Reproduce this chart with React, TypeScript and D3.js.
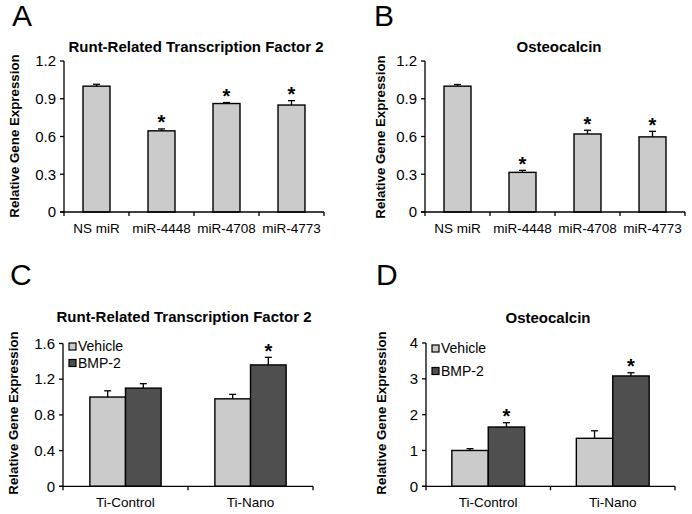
import React from "react";
import * as d3 from "d3";

// ---------- data ----------
const categoriesAB = ["NS miR", "miR-4448", "miR-4708", "miR-4773"];
const runxA = [1.0, 0.645, 0.862, 0.85];
const runxAErr = [0.015, 0.015, 0.008, 0.035];
const runxASig = [false, true, true, true];
const ocnB = [1.0, 0.315, 0.62, 0.597];
const ocnBErr = [0.013, 0.016, 0.03, 0.044];
const ocnBSig = [false, true, true, true];

const categoriesCD = ["Ti-Control", "Ti-Nano"];
const seriesNames = ["Vehicle", "BMP-2"];
const runxCVehicle = [1.0, 0.98];
const runxCVehicleErr = [0.07, 0.05];
const runxCBmp = [1.1, 1.36];
const runxCBmpErr = [0.05, 0.085];
const runxCSig = [[false, false], [false, true]];
const ocnDVehicle = [1.0, 1.34];
const ocnDVehicleErr = [0.05, 0.21];
const ocnDBmp = [1.655, 3.08];
const ocnDBmpErr = [0.12, 0.09];
const ocnDSig = [[false, true], [false, true]];

const ticksAB = [0, 0.3, 0.6, 0.9, 1.2];
const ticksC = [0, 0.4, 0.8, 1.2, 1.6];
const ticksD = [0, 1, 2, 3, 4];

const FONT = "'Liberation Sans', Arial, Helvetica, sans-serif";
const LIGHT = "#cbcbcb";
const DARK = "#4f4f4f";

type PanelProps = {
  letter: string;
  letterX: number;
  letterY: number;
  title: string;
  titleX: number;
  titleY: number;
  ylabelX: number;
  ylabelY: number;
  x0: number;
  x1: number;
  yTop: number;
  yBot: number;
  ymax: number;
  ticks: number[];
  tickFmt: (v: number) => string;
  categories: string[];
  series: { values: number[]; errs: number[]; sig: boolean[]; fill: string }[];
  groupFrac: number;
  legend?: { x: number; y: number; gap: number };
};

function Panel(p: PanelProps) {
  const x = d3.scaleBand<string>().domain(p.categories).range([p.x0, p.x1]).padding(0);
  const y = d3.scaleLinear().domain([0, p.ymax]).range([p.yBot, p.yTop]);
  const bw = x.bandwidth();
  const groupW = bw * p.groupFrac;
  const nS = p.series.length;
  const barW = groupW / nS;
  const boundaries = [...p.categories.map((c) => x(c) as number), p.x1];

  const marks: React.ReactNode[] = [];
  p.categories.forEach((c, i) => {
    const gx = (x(c) as number) + (bw - groupW) / 2;
    p.series.forEach((s, j) => {
      const bx = gx + j * barW;
      const v = s.values[i];
      const e = s.errs[i];
      const cx = bx + barW / 2;
      const errTop = y(v + e);
      marks.push(
        <g key={`${c}-${j}`}>
          <line x1={cx} x2={cx} y1={y(v)} y2={errTop} stroke="#000" strokeWidth={1.3} />
          <line x1={cx - 3.5} x2={cx + 3.5} y1={errTop} y2={errTop} stroke="#000" strokeWidth={1.3} />
          <rect x={bx} y={y(v)} width={barW} height={p.yBot - y(v)} fill={s.fill} stroke="#000" strokeWidth={1.4} />
          {s.sig[i] && (
            <text x={cx} y={errTop + 0.5} textAnchor="middle" fontFamily={FONT} fontWeight="bold" fontSize={20} fill="#000">
              *
            </text>
          )}
        </g>
      );
    });
  });

  return (
    <g>
      <text x={p.letterX} y={p.letterY} fontFamily={FONT} fontSize={30} fill="#000">
        {p.letter}
      </text>
      <text x={p.titleX} y={p.titleY} textAnchor="middle" fontFamily={FONT} fontWeight="bold" fontSize={15} fill="#000">
        {p.title}
      </text>
      <text
        transform={`translate(${p.ylabelX},${p.ylabelY}) rotate(-90)`}
        textAnchor="middle"
        dy="0.35em"
        fontFamily={FONT}
        fontWeight="bold"
        fontSize={13.3}
        fill="#000"
      >
        Relative Gene Expression
      </text>
      {marks}
      {/* y axis */}
      <line x1={p.x0} x2={p.x0} y1={p.yTop} y2={p.yBot} stroke="#000" strokeWidth={1.3} />
      {p.ticks.map((t) => (
        <g key={t}>
          <line x1={p.x0 - 4} x2={p.x0} y1={y(t)} y2={y(t)} stroke="#000" strokeWidth={1.3} />
          <text x={p.x0 - 8} y={y(t)} dy="0.35em" textAnchor="end" fontFamily={FONT} fontSize={15} fill="#000">
            {p.tickFmt(t)}
          </text>
        </g>
      ))}
      {/* x axis */}
      <line x1={p.x0 - 4} x2={p.x1} y1={p.yBot} y2={p.yBot} stroke="#000" strokeWidth={1.3} />
      {boundaries.map((b, i) => (
        <line key={i} x1={b} x2={b} y1={p.yBot} y2={p.yBot + 4} stroke="#000" strokeWidth={1.3} />
      ))}
      {p.categories.map((c) => (
        <text
          key={c}
          x={(x(c) as number) + bw / 2}
          y={p.yBot + 21}
          textAnchor="middle"
          fontFamily={FONT}
          fontSize={13.5}
          fill="#000"
        >
          {c}
        </text>
      ))}
      {p.legend &&
        p.series.map((s, j) => (
          <g key={`lg${j}`}>
            <rect
              x={p.legend!.x}
              y={p.legend!.y + j * p.legend!.gap}
              width={7}
              height={7}
              fill={s.fill}
              stroke="#000"
              strokeWidth={1.2}
            />
            <text
              x={p.legend!.x + 9}
              y={p.legend!.y + j * p.legend!.gap + 3.5}
              dy="0.35em"
              fontFamily={FONT}
              fontSize={14}
              fill="#000"
            >
              {seriesNames[j]}
            </text>
          </g>
        ))}
    </g>
  );
}

export default function App() {
  const fmtAB = (v: number) => (v === 0 ? "0" : d3.format(".1f")(v));
  return (
    <svg
      width={692}
      height={514}
      style={{ position: "absolute", left: 0, top: 0, background: "#fff", display: "block" }}
    >
      <rect x={0} y={0} width={692} height={514} fill="#fff" />
      <Panel
        letter="A"
        letterX={12}
        letterY={26}
        title="Runt-Related Transcription Factor 2"
        titleX={196}
        titleY={52}
        ylabelX={14}
        ylabelY={136}
        x0={64}
        x1={324}
        yTop={61}
        yBot={212}
        ymax={1.2}
        ticks={ticksAB}
        tickFmt={fmtAB}
        categories={categoriesAB}
        series={[{ values: runxA, errs: runxAErr, sig: runxASig, fill: LIGHT }]}
        groupFrac={0.415}
      />
      <Panel
        letter="B"
        letterX={374}
        letterY={26}
        title="Osteocalcin"
        titleX={559}
        titleY={52}
        ylabelX={380}
        ylabelY={137}
        x0={425}
        x1={685}
        yTop={61}
        yBot={212}
        ymax={1.2}
        ticks={ticksAB}
        tickFmt={fmtAB}
        categories={categoriesAB}
        series={[{ values: ocnB, errs: ocnBErr, sig: ocnBSig, fill: LIGHT }]}
        groupFrac={0.415}
      />
      <Panel
        letter="C"
        letterX={10}
        letterY={285}
        title="Runt-Related Transcription Factor 2"
        titleX={184}
        titleY={322}
        ylabelX={13}
        ylabelY={413}
        x0={63}
        x1={313}
        yTop={343.5}
        yBot={486.3}
        ymax={1.6}
        ticks={ticksC}
        tickFmt={fmtAB}
        categories={categoriesCD}
        series={[
          { values: runxCVehicle, errs: runxCVehicleErr, sig: runxCSig.map((s) => s[0]), fill: LIGHT },
          { values: runxCBmp, errs: runxCBmpErr, sig: runxCSig.map((s) => s[1]), fill: DARK },
        ]}
        groupFrac={0.57}
        legend={{ x: 69, y: 343, gap: 16.5 }}
      />
      <Panel
        letter="D"
        letterX={376}
        letterY={285}
        title="Osteocalcin"
        titleX={548}
        titleY={322.5}
        ylabelX={381}
        ylabelY={413}
        x0={426}
        x1={675}
        yTop={343}
        yBot={486.3}
        ymax={4}
        ticks={ticksD}
        tickFmt={(v) => String(v)}
        categories={categoriesCD}
        series={[
          { values: ocnDVehicle, errs: ocnDVehicleErr, sig: ocnDSig.map((s) => s[0]), fill: LIGHT },
          { values: ocnDBmp, errs: ocnDBmpErr, sig: ocnDSig.map((s) => s[1]), fill: DARK },
        ]}
        groupFrac={0.585}
        legend={{ x: 432, y: 345, gap: 22.5 }}
      />
    </svg>
  );
}
